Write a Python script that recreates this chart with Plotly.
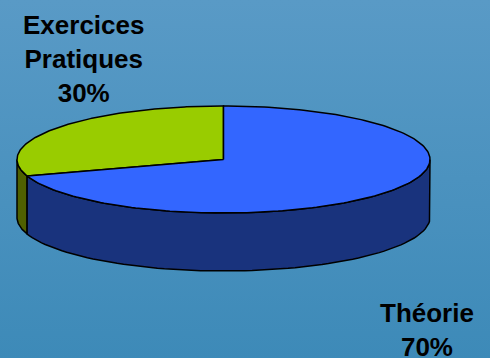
import numpy as np
import plotly.graph_objects as go

# Data
categories = ["Exercices Pratiques", "Théorie"]
values = [30, 70]
label_texts = ["Exercices<br>Pratiques<br>30%", "Théorie<br>70%"]

# Styles
top_colors = ["#99cc00", "#3366ff"]
side_colors = ["#4f6000", "#19337d"]

W, H = 490, 358
cx, cy, rx, ry, depth = 223.5, 159.5, 206.5, 53.5, 58.0

def pt(t_deg, dy=0.0):
    t = np.radians(t_deg)
    return cx + rx * np.cos(t), cy - ry * np.sin(t) + dy

total = float(sum(values))
starts, ends = [], []
a = 90.0
for v in values:
    starts.append(a)
    a += 360.0 * v / total
    ends.append(a)

fig = go.Figure()
line = dict(color="black", width=1.5)

# side walls (front half: 180..360 deg)
for i in range(len(values)):
    s, e = starts[i], ends[i]
    for off in (0.0, 360.0):
        lo = max(s, 180.0 + off)
        hi = min(e, 360.0 + off)
        if hi > lo:
            ts = np.linspace(lo, hi, 80)
            xs_top, ys_top = pt(ts)
            xs_bot, ys_bot = pt(ts[::-1], depth)
            xs = np.concatenate([xs_top, xs_bot, xs_top[:1]])
            ys = np.concatenate([ys_top, ys_bot, ys_top[:1]])
            fig.add_trace(go.Scatter(x=xs, y=ys, mode="lines", fill="toself",
                                     fillcolor=side_colors[i], line=line,
                                     hoverinfo="skip", showlegend=False))

# top faces
for i in range(len(values)):
    ts = np.linspace(starts[i], ends[i], 200)
    xa, ya = pt(ts)
    xs = np.concatenate([[cx], xa, [cx]])
    ys = np.concatenate([[cy], ya, [cy]])
    fig.add_trace(go.Scatter(x=xs, y=ys, mode="lines", fill="toself",
                             fillcolor=top_colors[i], line=line,
                             hoverinfo="skip", showlegend=False,
                             name=categories[i]))

# labels
label_pos = [(83.5, 59), (427, 330)]
for txt, (lx, ly) in zip(label_texts, label_pos):
    fig.add_annotation(x=lx, y=ly, xref="x", yref="y", text="<b>%s</b>" % txt,
                       showarrow=False, xanchor="center", yanchor="middle",
                       font=dict(family="Arial, Liberation Sans, sans-serif",
                                 size=26, color="black"))

grad = ("data:image/svg+xml;utf8,<svg xmlns='http://www.w3.org/2000/svg' width='490' height='358'>"
        "<defs><linearGradient id='g' x1='0' y1='0' x2='0' y2='1'>"
        "<stop offset='0' stop-color='%23599ac6'/><stop offset='1' stop-color='%233d8ab8'/>"
        "</linearGradient></defs><rect width='490' height='358' fill='url(%23g)'/></svg>")

fig.update_layout(
    width=W, height=H,
    margin=dict(l=0, r=0, t=0, b=0),
    paper_bgcolor="#4a92bf", plot_bgcolor="rgba(0,0,0,0)",
    xaxis=dict(range=[0, W], visible=False, fixedrange=True),
    yaxis=dict(range=[H, 0], visible=False, fixedrange=True),
    images=[dict(source=grad, xref="paper", yref="paper", x=0, y=1,
                 sizex=1, sizey=1, xanchor="left", yanchor="top",
                 sizing="stretch", layer="below")],
    showlegend=False,
)

fig.write_html("out.html", config={"displayModeBar": False},
               post_script="document.body.style.margin='0';document.body.style.overflow='hidden';")
